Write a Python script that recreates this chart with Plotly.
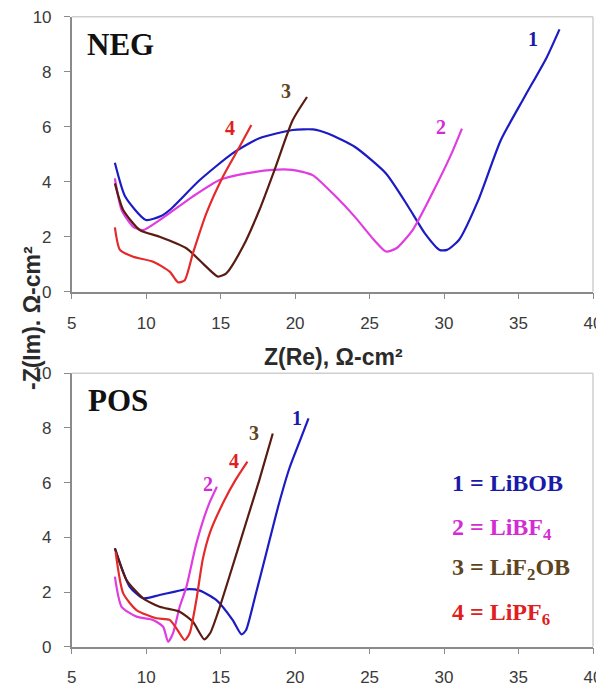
import plotly.graph_objects as go

# ---------------- data ----------------
# NEG panel
neg1_x = [7.9, 8.6, 9.98, 11.0, 11.58, 13.6, 15.8, 17.6, 19.84, 21.2, 22.2, 24.0, 26.1, 27.6, 28.7, 29.7, 30.2, 31.0, 32.3, 33.8, 35.4, 36.9, 37.75]
neg1_y = [4.69, 3.45, 2.61, 2.75, 2.97, 4.06, 5.03, 5.58, 5.88, 5.9, 5.75, 5.27, 4.3, 3.09, 2.13, 1.52, 1.52, 1.88, 3.33, 5.5, 7.08, 8.53, 9.54]
neg2_x = [7.9, 8.35, 9.13, 9.8, 10.9, 13.1, 14.93, 16.72, 18.5, 19.8, 21.17, 22.75, 24.0, 25.3, 26.1, 26.8, 27.9, 29.2, 30.5, 31.2]
neg2_y = [4.12, 2.97, 2.36, 2.24, 2.6, 3.45, 4.06, 4.3, 4.43, 4.43, 4.24, 3.45, 2.73, 1.88, 1.46, 1.58, 2.25, 3.57, 5.02, 5.93]
neg3_x = [7.9, 8.46, 9.57, 10.9, 12.7, 13.8, 14.82, 15.38, 16.5, 17.6, 18.7, 19.84, 20.8]
neg3_y = [3.94, 2.97, 2.24, 2.0, 1.58, 1.03, 0.55, 0.67, 1.64, 2.97, 4.55, 6.24, 7.08]
neg4_x = [7.9, 8.24, 9.13, 10.47, 11.58, 12.14, 12.59, 13.14, 14.04, 15.15, 16.27, 17.06]
neg4_y = [2.34, 1.52, 1.27, 1.09, 0.73, 0.34, 0.42, 1.4, 2.85, 4.18, 5.27, 6.06]

# POS panel
pos1_x = [7.9, 8.9, 9.8, 10.9, 12.7, 13.6, 14.7, 15.8, 16.4, 16.7, 17.3, 18.1, 18.9, 19.6, 20.3, 20.9]
pos1_y = [3.6, 2.19, 1.77, 1.89, 2.1, 2.05, 1.71, 0.98, 0.45, 0.6, 1.8, 3.5, 5.2, 6.5, 7.5, 8.35]
pos2_x = [7.9, 8.35, 9.35, 10.47, 11.14, 11.47, 11.8, 12.25, 12.7, 13.37, 14.2, 14.75]
pos2_y = [2.56, 1.46, 1.1, 0.98, 0.73, 0.18, 0.49, 1.46, 2.19, 3.78, 5.2, 5.85]
pos3_x = [7.9, 8.68, 9.8, 10.9, 12.25, 13.14, 13.9, 14.3, 14.85, 15.75, 16.8, 17.6, 18.5]
pos3_y = [3.6, 2.44, 1.77, 1.46, 1.28, 0.91, 0.27, 0.5, 1.3, 2.85, 4.7, 6.1, 7.8]
pos4_x = [7.95, 8.46, 9.35, 10.7, 11.58, 12.03, 12.59, 12.92, 13.37, 13.8, 14.3, 15.2, 16.0, 16.8]
pos4_y = [3.45, 1.95, 1.34, 1.04, 0.98, 0.67, 0.24, 0.49, 1.71, 3.2, 4.2, 5.3, 6.1, 6.77]

x_ticks = [5, 10, 15, 20, 25, 30, 35, 40]
y_ticks = [0, 2, 4, 6, 8, 10]

curve_colors = ["#1c1cc4", "#e03ce0", "#5a1c12", "#e42a2a"]
label_colors = ["#1a1aa8", "#d42cd4", "#5e4420", "#e02020"]

neg_label_pos = [(36.0, 9.2, "1"), (29.8, 6.0, "2"), (19.4, 7.3, "3"), (15.6, 5.95, "4")]
pos_label_pos = [(20.1, 8.35, "1"), (14.15, 5.95, "2"), (17.25, 7.8, "3"), (15.9, 6.8, "4")]

legend_text = ["1 = LiBOB", "2 = LiBF<sub>4</sub>", "3 = LiF<sub>2</sub>OB", "4 = LiPF<sub>6</sub>"]
legend_y = [6.0, 4.3, 2.85, 1.2]
legend_x = 30.4

# ---------------- figure ----------------
OFF = 8  # page body margin of the browser
W, H = 604 - OFF, 686 - OFF
fig = go.Figure()

neg = [(neg1_x, neg1_y), (neg2_x, neg2_y), (neg3_x, neg3_y), (neg4_x, neg4_y)]
pos = [(pos1_x, pos1_y), (pos2_x, pos2_y), (pos3_x, pos3_y), (pos4_x, pos4_y)]

for i, (xs, ys) in enumerate(neg):
    fig.add_trace(go.Scatter(x=xs, y=ys, mode="lines", xaxis="x", yaxis="y",
                             line=dict(color=curve_colors[i], width=2.2, shape="spline", smoothing=0.6),
                             showlegend=False, hoverinfo="skip"))
for i, (xs, ys) in enumerate(pos):
    fig.add_trace(go.Scatter(x=xs, y=ys, mode="lines", xaxis="x2", yaxis="y2",
                             line=dict(color=curve_colors[i], width=2.2, shape="spline", smoothing=0.6),
                             showlegend=False, hoverinfo="skip"))

def px_x(p):
    return (p - OFF) / W

def px_y(p):
    return 1 - (p - OFF) / H

xdom = [px_x(71.7), px_x(593)]
top_dom = [px_y(291.7), px_y(16.7)]
bot_dom = [px_y(646.7), px_y(373.3)]

tickfont = dict(family="Liberation Sans, Arial, sans-serif", size=17, color="#3a3a3a")
axis_common = dict(showgrid=False, zeroline=False, showline=True, linecolor="#8a8a8a", linewidth=1.5,
                   ticks="outside", ticklen=6, tickwidth=1.3, tickcolor="#8a8a8a", tickfont=tickfont,
                   automargin=False, ticklabeloverflow="allow")

fig.update_layout(
    width=W, height=H,
    margin=dict(l=0, r=0, t=0, b=0, autoexpand=False),
    paper_bgcolor="white", plot_bgcolor="white",
    xaxis=dict(domain=xdom, range=[5, 40], tickvals=x_ticks, anchor="y", ticklabelstandoff=9, **axis_common),
    yaxis=dict(domain=top_dom, range=[0, 10], tickvals=y_ticks, anchor="x", ticklabelstandoff=9, **axis_common),
    xaxis2=dict(domain=xdom, range=[5, 40], tickvals=x_ticks, anchor="y2", ticklabelstandoff=8, **axis_common),
    yaxis2=dict(domain=bot_dom, range=[0, 10], tickvals=y_ticks, anchor="x2", ticklabelstandoff=9, **axis_common),
)

# light frame on top and right of each panel
for xr, yr in (("x domain", "y domain"), ("x2 domain", "y2 domain")):
    fig.add_shape(type="line", xref=xr, yref=yr, x0=0, x1=1, y0=1, y1=1, line=dict(color="#cfcfcf", width=1.5))
    fig.add_shape(type="line", xref=xr, yref=yr, x0=1, x1=1, y0=0, y1=1, line=dict(color="#cfcfcf", width=1.5))

serif = "Liberation Serif, Times New Roman, serif"
sans = "Liberation Sans, Arial, sans-serif"

# panel names (placed in the panel's own data coordinates)
fig.add_annotation(x=5.9, y=9.0, xref="x", yref="y", text="<b>NEG</b>", showarrow=False, xanchor="left",
                   font=dict(family=serif, size=31, color="#111111"))
fig.add_annotation(x=5.95, y=9.0, xref="x2", yref="y2", text="<b>POS</b>", showarrow=False, xanchor="left",
                   font=dict(family=serif, size=31, color="#111111"))

# curve number labels
for i, (x, y, t) in enumerate(neg_label_pos):
    fig.add_annotation(x=x, y=y, xref="x", yref="y", text="<b>" + t + "</b>", showarrow=False,
                       font=dict(family=serif, size=20, color=label_colors[i]))
for i, (x, y, t) in enumerate(pos_label_pos):
    fig.add_annotation(x=x, y=y, xref="x2", yref="y2", text="<b>" + t + "</b>", showarrow=False,
                       font=dict(family=serif, size=20, color=label_colors[i]))

# legend text
for i, t in enumerate(legend_text):
    fig.add_annotation(x=legend_x, y=legend_y[i], xref="x2", yref="y2", text="<b>" + t + "</b>",
                       showarrow=False, xanchor="left",
                       font=dict(family=serif, size=24, color=label_colors[i]))

# axis titles
fig.add_annotation(x=px_x(333), y=px_y(357), xref="paper", yref="paper", text="<b>Z(Re), Ω-cm²</b>",
                   showarrow=False, font=dict(family=sans, size=23, color="#2a2a2a"))
fig.add_annotation(x=px_x(17), y=px_y(318), xref="paper", yref="paper", text="<b>-Z(Im). Ω-cm²</b>",
                   showarrow=False, textangle=-90, font=dict(family=sans, size=23, color="#2a2a2a"))

fig.write_html("out.html")
